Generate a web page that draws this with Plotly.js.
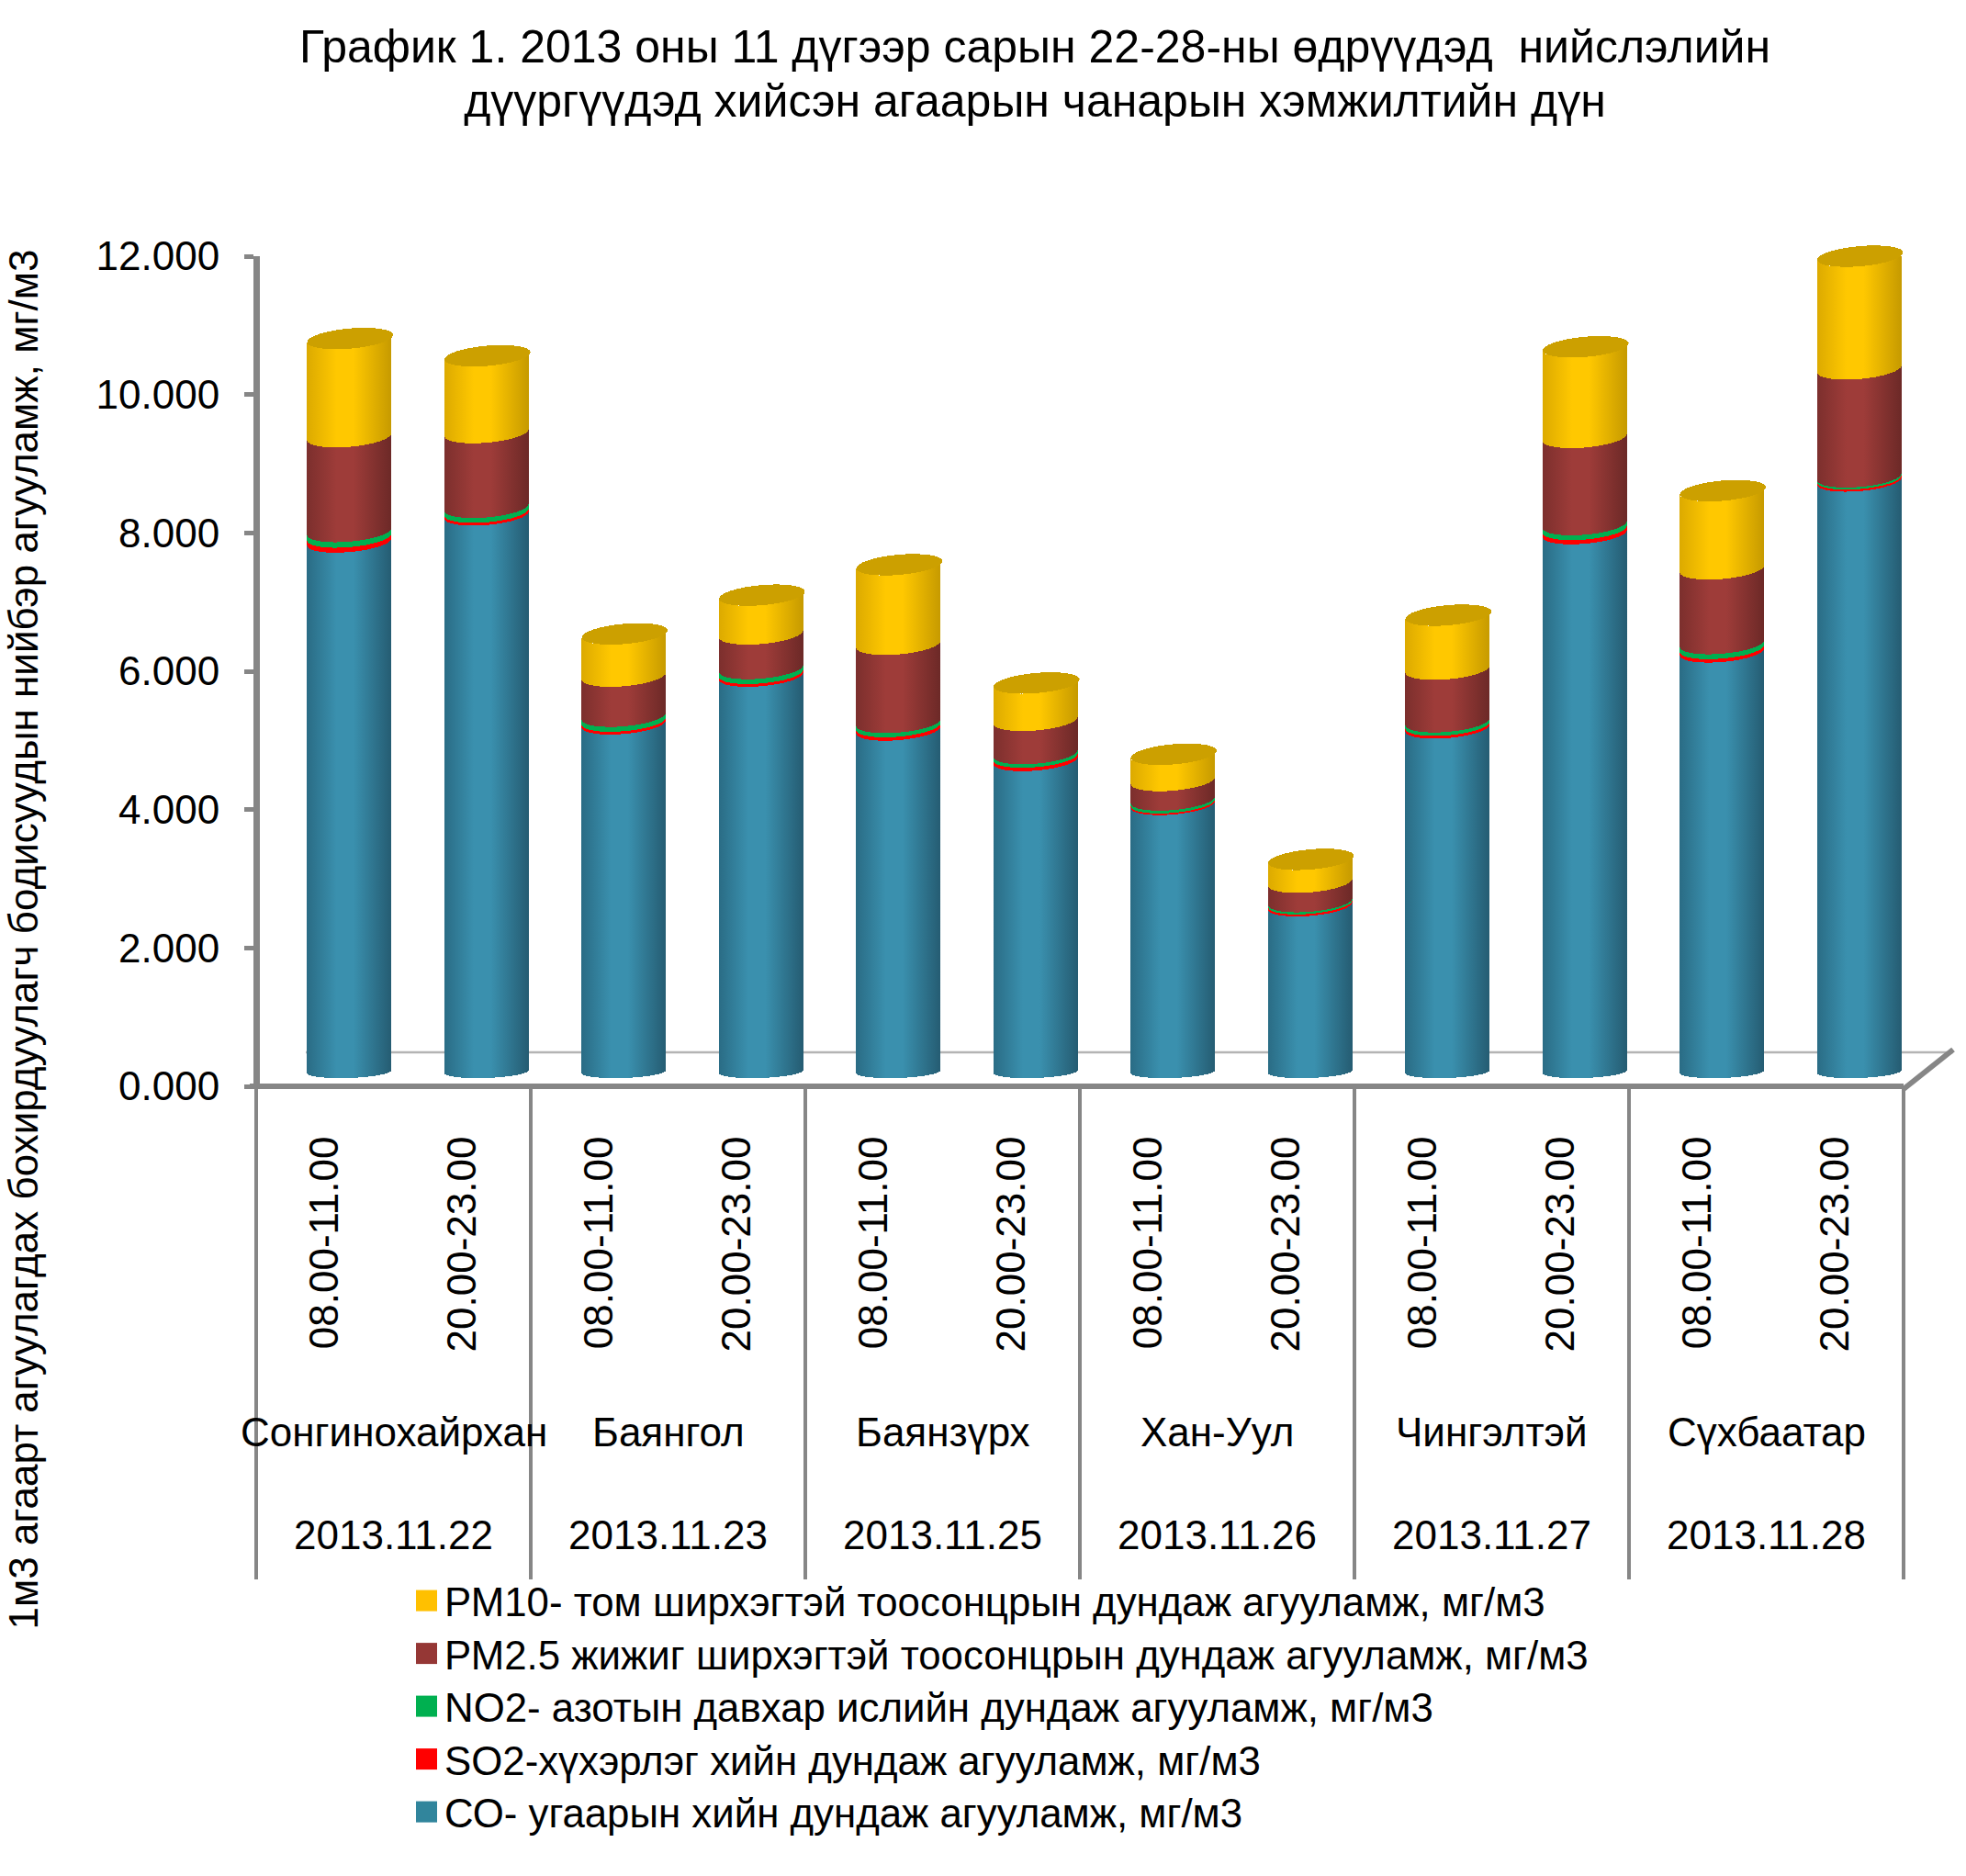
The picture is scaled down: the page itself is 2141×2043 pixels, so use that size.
<!DOCTYPE html>
<html><head><meta charset="utf-8">
<script src="https://cdn.plot.ly/plotly-3.0.1.min.js"></script>
<style>html,body{margin:0;padding:0;background:#fff}#chart{width:2141px;height:2043px}</style>
</head><body><div id="chart"></div>
<script>
const timeLabels = ["08.00-11.00","20.00-23.00","08.00-11.00","20.00-23.00","08.00-11.00","20.00-23.00","08.00-11.00","20.00-23.00","08.00-11.00","20.00-23.00","08.00-11.00","20.00-23.00"];
const positions = [0,1,2,3,4,5,6,7,8,9,10,11];
const districts = ["Сонгинохайрхан","Баянгол","Баянзүрх","Хан-Уул","Чингэлтэй","Сүхбаатар"];
const dates = ["2013.11.22","2013.11.23","2013.11.25","2013.11.26","2013.11.27","2013.11.28"];
const CO   = [7.87,8.26,5.24,5.93,5.15,4.71,4.075,2.61,5.18,7.99,6.28,8.75];
const SO2  = [0.07,0.04,0.04,0.04,0.05,0.05,0.025,0.03,0.04,0.06,0.05,0.03];
const NO2  = [0.08,0.07,0.07,0.07,0.06,0.05,0.04,0.03,0.05,0.07,0.07,0.03];
const PM25 = [1.37,1.08,0.58,0.50,1.13,0.48,0.28,0.28,0.76,1.26,1.08,1.56];
const PM10 = [1.42,1.11,0.61,0.56,1.15,0.54,0.38,0.33,0.78,1.31,1.13,1.63];
const seriesNames = [
 "СО- угаарын хийн дундаж агууламж, мг/м3",
 "SO2-хүхэрлэг хийн дундаж агууламж, мг/м3",
 "NO2- азотын давхар ислийн дундаж агууламж, мг/м3",
 "РМ2.5 жижиг ширхэгтэй тоосонцрын дундаж агууламж, мг/м3",
 "РМ10- том ширхэгтэй тоосонцрын дундаж агууламж, мг/м3"];
const seriesColors = ["#31859C","#FF0000","#00B050","#953735","#FFC000"];
const seriesValues = [CO,SO2,NO2,PM25,PM10];
const titleText = "График 1. 2013 оны 11 дүгээр сарын 22-28-ны өдрүүдэд \u00A0нийслэлийн<br>дүүргүүдэд хийсэн агаарын чанарын хэмжилтийн дүн";
const yTitleText = "1м3 агаарт агуулагдах бохирдуулагч бодисуудын нийбэр агууламж, мг/м3";

const FONT = "'Liberation Sans', Arial, sans-serif";
const L=279,T=279,R=2073,B=1183,PW=R-L,PH=B-T;
const px=x=>(x-L)/PW, py=y=>(B-y)/PH;
const grey="#868686";

const traces = seriesValues.map((v,i)=>({
  type:'bar', x:positions, y:v, name:seriesNames[i],
  width:0.615, offset:-0.13, cliponaxis:false,
  marker:{color:seriesColors[i], line:{width:0}}, hoverinfo:'skip'
}));

const shapes=[];
for(let k=0;k<=6;k++){
  shapes.push({type:'line',xref:'paper',yref:'paper',x0:k/6,x1:k/6,y0:0,y1:py(1720),line:{color:grey,width:4},layer:'below'});
}
shapes.push({type:'line',xref:'paper',yref:'paper',x0:px(333),x1:px(2127),y0:py(1146),y1:py(1146),line:{color:"#B4B4B4",width:2.5},layer:'below'});
shapes.push({type:'line',xref:'paper',yref:'paper',x0:1,x1:px(2127),y0:py(1186),y1:py(1143),line:{color:grey,width:6},layer:'below'});

const annotations=[];
districts.forEach((d,k)=>annotations.push({text:d,xref:'x',yref:'paper',x:0.5+2*k,y:py(1559),showarrow:false,yanchor:'middle',xanchor:'center',font:{family:FONT,size:44,color:'#000'}}));
dates.forEach((d,k)=>annotations.push({text:d,xref:'x',yref:'paper',x:0.5+2*k,y:py(1671),showarrow:false,yanchor:'middle',xanchor:'center',font:{family:FONT,size:44,color:'#000'}}));

const layout={
  width:2141,height:2043,paper_bgcolor:'#fff',plot_bgcolor:'rgba(0,0,0,0)',
  barmode:'stack',bargap:0.39,
  margin:{l:L,r:2141-R,t:T,b:2043-B,autoexpand:false},
  font:{family:FONT,color:'#000'},
  title:{text:titleText,x:1127/2141,xanchor:'center',y:0.96686,yanchor:'top',font:{family:FONT,size:50,color:'#000'}},
  xaxis:{range:[-0.5,11.5],tickmode:'array',tickvals:positions,ticktext:timeLabels,tickangle:-90,ticks:'',
    showgrid:false,zeroline:false,showline:true,linecolor:grey,linewidth:6,ticklabelstandoff:31,
    tickfont:{family:FONT,size:44,color:'#000'}},
  yaxis:{range:[0,12],tick0:0,dtick:2,tickformat:'.3f',ticks:'outside',ticklen:10,tickwidth:5,tickcolor:grey,
    showgrid:false,zeroline:false,showline:true,linecolor:grey,linewidth:7,ticklabelstandoff:14,
    title:{text:yTitleText,font:{family:FONT,size:44,color:'#000'}},
    tickfont:{family:FONT,size:44,color:'#000'}},
  legend:{x:px(444),y:py(1717),xanchor:'left',yanchor:'top',traceorder:'reversed',
    font:{family:FONT,size:43.8,color:'#000'},bgcolor:'rgba(0,0,0,0)'},
  shapes,annotations
};

const gradients={
  0:['#2A6C85','#3A90AE','#255C72'],
  3:['#7C2F2D','#9E3C39','#6C2927'],
  4:['#DCAA00','#FFC800','#C69A00']
};

Plotly.newPlot('chart',traces,layout,{displayModeBar:false,staticPlot:true}).then(gd=>{
  const NS='http://www.w3.org/2000/svg';
  const svg=gd.querySelector('svg.main-svg');
  const defs=document.createElementNS(NS,'defs');
  Object.keys(gradients).forEach(k=>{
    const g=document.createElementNS(NS,'linearGradient');
    g.setAttribute('id','cyl'+k);
    [[0,0],[0.35,1],[0.55,1],[1,2]].forEach(([o,c])=>{
      const s=document.createElementNS(NS,'stop');
      s.setAttribute('offset',o);s.setAttribute('stop-color',gradients[k][c]);g.appendChild(s);
    });
    defs.appendChild(g);
  });
  svg.insertBefore(defs,svg.firstChild);

  const RY=11,TILT=4,ROT=-5;
  const baseLift=16,baseRy=7,baseTilt=1.5;
  gd.querySelectorAll('.barlayer .trace.bars').forEach((tr,ti)=>{
    tr.querySelectorAll('.point path').forEach(p=>{
      const n=(p.getAttribute('d')||'').match(/-?\d+(\.\d+)?/g);
      if(!n) return;
      const x0=+n[0],yB0=+n[1],yT=+n[2],x1=+n[3];
      const rx=(x1-x0)/2;
      let d='M'+x0+','+(yT+TILT)+'A'+rx+','+RY+','+ROT+',0,0,'+x1+','+(yT-TILT);
      if(ti===0){
        const yB=yB0-baseLift;
        d+='L'+x1+','+(yB-baseTilt)+'A'+rx+','+baseRy+',-2,0,1,'+x0+','+(yB+baseTilt)+'Z';
      } else {
        d+='L'+x1+','+(yB0-TILT)+'A'+rx+','+RY+','+ROT+',0,1,'+x0+','+(yB0+TILT)+'Z';
      }
      p.setAttribute('d',d);
      if(gradients[ti]) p.style.fill='url(#cyl'+ti+')';
      if(ti===4){
        const e=document.createElementNS(NS,'ellipse');
        const cx=(x0+x1)/2+1;
        e.setAttribute('cx',cx);e.setAttribute('cy',yT);
        e.setAttribute('rx',rx+1);e.setAttribute('ry',RY);
        e.setAttribute('transform','rotate('+ROT+','+cx+','+yT+')');
        e.setAttribute('fill','#CCA000');
        p.parentNode.appendChild(e);
      }
    });
  });
  // thick axis lines are centred on the plot edges
  gd.querySelectorAll('path.xlines-above').forEach(p=>p.setAttribute('transform','translate(0,-3)'));
  gd.querySelectorAll('path.ylines-above').forEach(p=>p.setAttribute('transform','translate(3.5,0)'));
  gd.querySelectorAll('path.ytick').forEach(p=>{
    const t=p.getAttribute('transform')||'';p.setAttribute('transform','translate(3.5,0) '+t);
  });
  // axis title sits lower than the plot's centre, as in the source
  const yt=gd.querySelector('text.ytitle');
  if(yt){
    const ctm=yt.parentNode.getCTM();
    const tx=41-(ctm?ctm.e:0), ty=1023-(ctm?ctm.f:0);
    yt.setAttribute('x',tx);yt.setAttribute('y',ty);
    yt.setAttribute('transform','rotate(-90,'+tx+','+ty+')');
  }
  // title line spacing
  const tl=gd.querySelectorAll('.gtitle tspan.line');
  if(tl[1]) tl[1].setAttribute('dy','1.18em');
  // legend rows and swatches
  gd.querySelectorAll('.legend .traces').forEach((g,i)=>g.setAttribute('transform','translate(0,'+(26.1+i*57.5)+')'));
  gd.querySelectorAll('.legend .legendpoints path').forEach(p=>{
    p.setAttribute('d','M11.5,11.5H-11.5V-11.5H11.5Z');
    p.setAttribute('transform','translate(20.5,0)');
  });
});
</script></body></html>
